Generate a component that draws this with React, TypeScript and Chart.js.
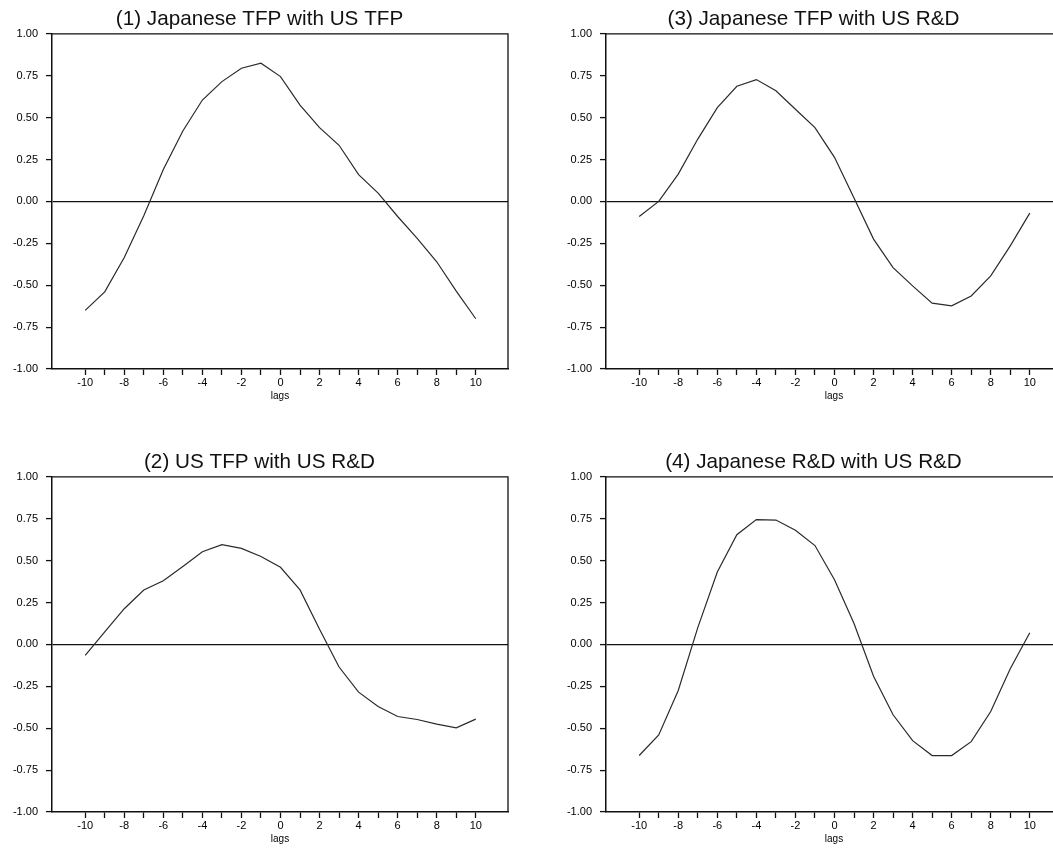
import React, { useEffect, useRef } from "react";
import { Chart, registerables } from "chart.js";

Chart.register(...registerables);

const lags = [-10, -9, -8, -7, -6, -5, -4, -3, -2, -1, 0, 1, 2, 3, 4, 5, 6, 7, 8, 9, 10];

const jpTfpUsTfp = [-0.65, -0.54, -0.335, -0.085, 0.19, 0.42, 0.605, 0.715, 0.795, 0.825, 0.745, 0.575, 0.44, 0.335, 0.16, 0.05, -0.09, -0.22, -0.36, -0.535, -0.70];
const usTfpUsRd = [-0.066, 0.075, 0.213, 0.325, 0.38, 0.465, 0.553, 0.595, 0.573, 0.525, 0.46, 0.325, 0.09, -0.135, -0.285, -0.37, -0.43, -0.448, -0.476, -0.498, -0.446];
const jpTfpUsRd = [-0.09, 0.0, 0.163, 0.372, 0.56, 0.687, 0.727, 0.66, 0.55, 0.44, 0.263, 0.02, -0.225, -0.395, -0.504, -0.607, -0.623, -0.564, -0.444, -0.265, -0.07];
const jpRdUsRd = [-0.663, -0.54, -0.275, 0.1, 0.432, 0.655, 0.745, 0.742, 0.681, 0.59, 0.386, 0.125, -0.19, -0.42, -0.574, -0.663, -0.663, -0.58, -0.40, -0.145, 0.07];

const titles = [
  "(1) Japanese TFP with US TFP",
  "(2) US TFP with US R&D",
  "(3) Japanese TFP with US R&D",
  "(4) Japanese R&D with US R&D",
];

const xAxisTitle = "lags";

const FONT = "'Liberation Sans', Arial, Helvetica, sans-serif";
const INK = "#000";

const boxPlugin = {
  id: "plotBox",
  afterDraw(chart: any) {
    const { ctx, chartArea } = chart;
    const { left, right, top, bottom } = chartArea;
    ctx.save();
    ctx.strokeStyle = "#111";
    ctx.lineWidth = 1.3;
    ctx.beginPath();
    ctx.moveTo(left, top);
    ctx.lineTo(right, top);
    ctx.lineTo(right, bottom);
    ctx.stroke();
    ctx.restore();
  },
};

const CW = 499;
const CH = 410;

function Panel({ title, values, left, top }: { title: string; values: number[]; left: number; top: number }) {
  const ref = useRef<HTMLCanvasElement>(null);
  useEffect(() => {
    const chart = new Chart(ref.current as HTMLCanvasElement, {
      type: "line",
      data: {
        datasets: [
          {
            data: lags.map((x, i) => ({ x, y: values[i] })),
            borderColor: "#2a2a2a",
            borderWidth: 1.2,
            pointRadius: 0,
            tension: 0,
            fill: false,
          },
        ],
      },
      options: {
        responsive: false,
        animation: false,
        devicePixelRatio: 1,
        layout: { padding: { left: 0, right: 2, top: 0, bottom: 0 } },
        plugins: {
          legend: { display: false },
          tooltip: { enabled: false },
          title: {
            display: true,
            text: title,
            color: "#111",
            font: { family: FONT, size: 20.7, weight: "normal", lineHeight: 1.2 },
            padding: { top: 7, bottom: 2 },
          },
        },
        scales: {
          x: {
            type: "linear",
            min: -11.7,
            max: 11.65,
            afterBuildTicks: (s: any) => {
              s.ticks = lags.map((v) => ({ value: v }));
            },
            afterFit: (s: any) => {
              s.height = 41;
            },
            ticks: {
              autoSkip: false,
              maxRotation: 0,
              minRotation: 0,
              padding: 1,
              color: INK,
              font: { family: FONT, size: 11 },
              callback: (v: any) => (Number(v) % 2 === 0 ? String(v) : ""),
            },
            grid: {
              drawOnChartArea: false,
              drawTicks: true,
              tickLength: 6,
              tickColor: "#111",
              tickWidth: 1.3,
            },
            border: { display: true, color: "#111", width: 1.5 },
            title: {
              display: true,
              text: xAxisTitle,
              color: INK,
              font: { family: FONT, size: 10 },
              padding: { top: 0, bottom: 8 },
            },
          },
          y: {
            type: "linear",
            min: -1,
            max: 1,
            afterFit: (s: any) => {
              s.width = 41;
            },
            ticks: {
              stepSize: 0.25,
              padding: 8,
              color: INK,
              font: { family: FONT, size: 11 },
              callback: (v: any) => Number(v).toFixed(2),
            },
            grid: {
              drawOnChartArea: true,
              color: (c: any) => (c.tick && c.tick.value === 0 ? "#111" : "rgba(0,0,0,0)"),
              lineWidth: 1.2,
              tickLength: 6,
              tickColor: "#111",
              tickWidth: 1.3,
            },
            border: { display: true, color: "#111", width: 1.5 },
          },
        },
      },
      plugins: [boxPlugin],
    } as any);
    return () => chart.destroy();
  }, []);
  return (
    <canvas
      ref={ref}
      width={CW}
      height={CH}
      style={{ position: "absolute", left, top, width: CW, height: CH }}
    />
  );
}

export default function App() {
  return (
    <div
      style={{
        position: "fixed",
        left: 0,
        top: 0,
        width: 1053,
        height: 851,
        overflow: "hidden",
        background: "#fff",
      }}
    >
      <Panel title={titles[0]} values={jpTfpUsTfp} left={11} top={0} />
      <Panel title={titles[2]} values={jpTfpUsRd} left={565} top={0} />
      <Panel title={titles[1]} values={usTfpUsRd} left={11} top={443} />
      <Panel title={titles[3]} values={jpRdUsRd} left={565} top={443} />
    </div>
  );
}
